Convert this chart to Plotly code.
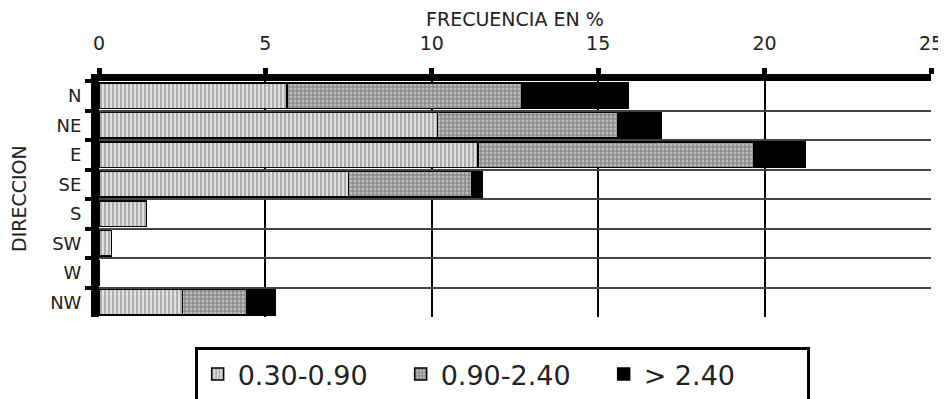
import plotly.graph_objects as go

direcciones = ["N", "NE", "E", "SE", "S", "SW", "W", "NW"]
rango_bajo = [5.65, 10.17, 11.39, 7.49, 1.43, 0.38, 0.0, 2.51]   # 0.30-0.90
rango_medio = [7.04, 5.43, 8.29, 3.72, 0.0, 0.0, 0.0, 1.92]     # 0.90-2.40
rango_alto = [3.21, 1.28, 1.54, 0.32, 0.0, 0.0, 0.0, 0.88]      # > 2.40
nombres = ["0.30-0.90", "0.90-2.40", "> 2.40"]

fuente = "DejaVu Sans"

fig = go.Figure()
fig.add_trace(go.Bar(y=direcciones, x=rango_bajo, name=nombres[0], orientation="h",
                     marker=dict(color="#cccccc", line=dict(color="black", width=1.5),
                                 pattern=dict(shape="|", fgcolor="#7a7a7a", bgcolor="#e0e0e0",
                                              size=4, solidity=0.5))))
fig.add_trace(go.Bar(y=direcciones, x=rango_medio, name=nombres[1], orientation="h",
                     marker=dict(color="#999999", line=dict(color="black", width=1.5),
                                 pattern=dict(shape="+", fgcolor="#444444", bgcolor="#bdbdbd",
                                              size=4, solidity=0.5))))
fig.add_trace(go.Bar(y=direcciones, x=rango_alto, name=nombres[2], orientation="h",
                     marker=dict(color="black", line=dict(color="black", width=1.5))))

# la pagina tiene 8px de margen en el body, se compensa con el tamaño
fig.update_layout(
    barmode="stack",
    bargap=0.12,
    width=938, height=391,
    margin=dict(l=91, r=15, t=73, b=82),
    paper_bgcolor="white", plot_bgcolor="white",
    font=dict(family=fuente, size=19, color="#222222"),
    showlegend=True,
    legend=dict(orientation="h", xref="container", x=0.199, xanchor="left",
                yref="container", y=0.133, yanchor="top",
                bordercolor="black", borderwidth=3, font=dict(size=27),
                traceorder="normal", itemwidth=30, entrywidth=158),
    xaxis=dict(side="top", range=[0, 25], tickvals=[0, 5, 10, 15, 20, 25],
               showgrid=True, gridcolor="black", gridwidth=1.5,
               showline=True, linecolor="black", linewidth=7,
               ticks="outside", ticklen=6, tickwidth=5, tickcolor="black",
               ticklabelstandoff=10, tickfont=dict(size=19),
               zeroline=False, fixedrange=True, automargin=False),
    yaxis=dict(type="category", autorange="reversed", tickson="boundaries",
               showgrid=True, gridcolor="#444444", gridwidth=1.5,
               showline=True, linecolor="black", linewidth=8,
               ticks="outside", ticklen=6, tickwidth=4, tickcolor="black",
               ticklabelstandoff=6, tickfont=dict(size=18),
               automargin=False),
    annotations=[
        dict(text="FRECUENCIA EN %", xref="paper", yref="paper", x=0.5, y=1,
             yshift=62, xanchor="center", yanchor="middle", showarrow=False,
             font=dict(size=19)),
        dict(text="DIRECCION", xref="paper", yref="paper", x=0, y=0.5,
             xshift=-80, xanchor="center", yanchor="middle", textangle=-90,
             showarrow=False, font=dict(size=19)),
    ],
)

fig.write_html("out.html")
